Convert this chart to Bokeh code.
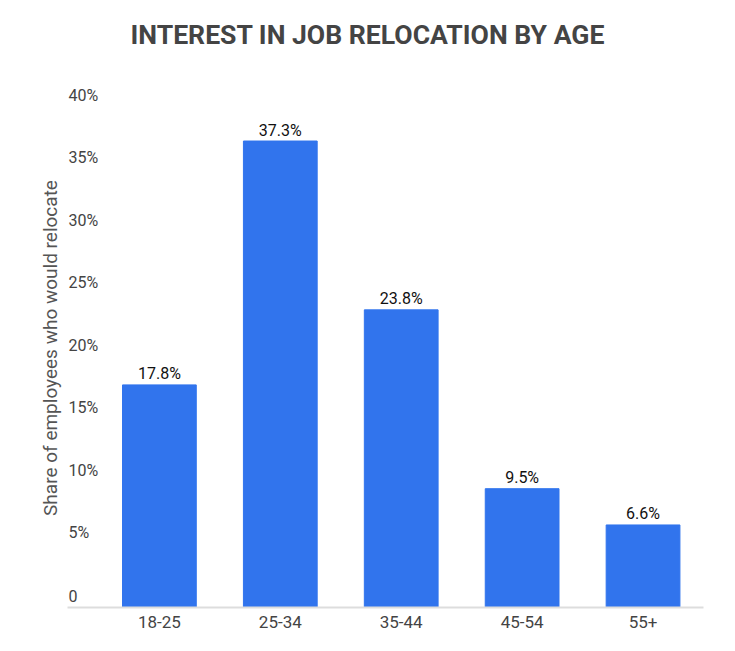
from bokeh.plotting import figure
from bokeh.models import Range1d, FixedTicker, ColumnDataSource, Title
from bokeh.core.properties import value
from bokeh.embed import file_html
from bokeh.resources import INLINE

# ---- data ----
categories = ["18-25", "25-34", "35-44", "45-54", "55+"]
shares = [17.8, 37.3, 23.8, 9.5, 6.6]
share_labels = ["17.8%", "37.3%", "23.8%", "9.5%", "6.6%"]
y_ticks = [0, 5, 10, 15, 20, 25, 30, 35, 40]
y_tick_labels = ["0", "5%", "10%", "15%", "20%", "25%", "30%", "35%", "40%"]

FONT = "Roboto"
BAR = "#3174ED"

xpos = list(range(len(categories)))
src = ColumnDataSource(dict(x=xpos, top=shares, label=share_labels))
tick_src = ColumnDataSource(dict(y=y_ticks, label=y_tick_labels))

p = figure(width=719, height=635, output_backend="svg", toolbar_location=None,
           x_range=Range1d(-0.76, 4.5), y_range=Range1d(0, 41.5),
           min_border_left=67, min_border_right=16, min_border_top=0, min_border_bottom=28)
p.title = Title(text="INTEREST IN JOB RELOCATION BY AGE", align="left",
                text_font=FONT, text_font_size="26.6px",
                text_font_style="bold", text_color="#444444", offset=63, standoff=32)
# spacer between the title and the plot area
p.add_layout(Title(text=" ", text_font_size="1px", standoff=20), "above")
p.outline_line_color = None
p.grid.visible = False
p.background_fill_color = "white"
p.border_fill_color = "white"

p.vbar(x="x", top="top", width=0.61, bottom=0, source=src, color=BAR)

# value labels
p.text(x="x", y="top", text="label", source=src, text_align="center",
       text_baseline="alphabetic", y_offset=-11, text_font=value(FONT),
       text_font_size="16px", text_color="#111111")

# y tick labels (left-aligned, above their level)
p.text(x=-0.76, y="y", text="label", source=tick_src, text_align="left",
       text_baseline="alphabetic", x_offset=1, y_offset=-12, text_font=value(FONT),
       text_font_size="16px", text_color="#444444")

# x axis
xa = p.xaxis[0]
xa.ticker = FixedTicker(ticks=xpos)
xa.major_label_overrides = {i: c for i, c in zip(xpos, categories)}
xa.axis_line_color = "#dddddd"
xa.axis_line_width = 2
xa.major_tick_line_color = None
xa.minor_tick_line_color = None
xa.major_tick_out = 0
xa.major_tick_in = 0
xa.major_label_text_font = FONT
xa.major_label_text_font_size = "17px"
xa.major_label_text_color = "#444444"
xa.major_label_standoff = 8

# y axis: only the title
ya = p.yaxis[0]
ya.axis_label = "Share of employees who would relocate"
ya.axis_label_text_font = FONT
ya.axis_label_text_font_size = "19px"
ya.axis_label_text_font_style = "normal"
ya.axis_label_text_color = "#555555"
ya.axis_line_color = None
ya.major_tick_line_color = None
ya.minor_tick_line_color = None
ya.major_tick_out = 0
ya.major_tick_in = 0
ya.major_label_text_font_size = "0px"
ya.major_label_text_color = None
ya.axis_label_standoff = 2

open("out.html", "w").write(file_html(p, INLINE))
